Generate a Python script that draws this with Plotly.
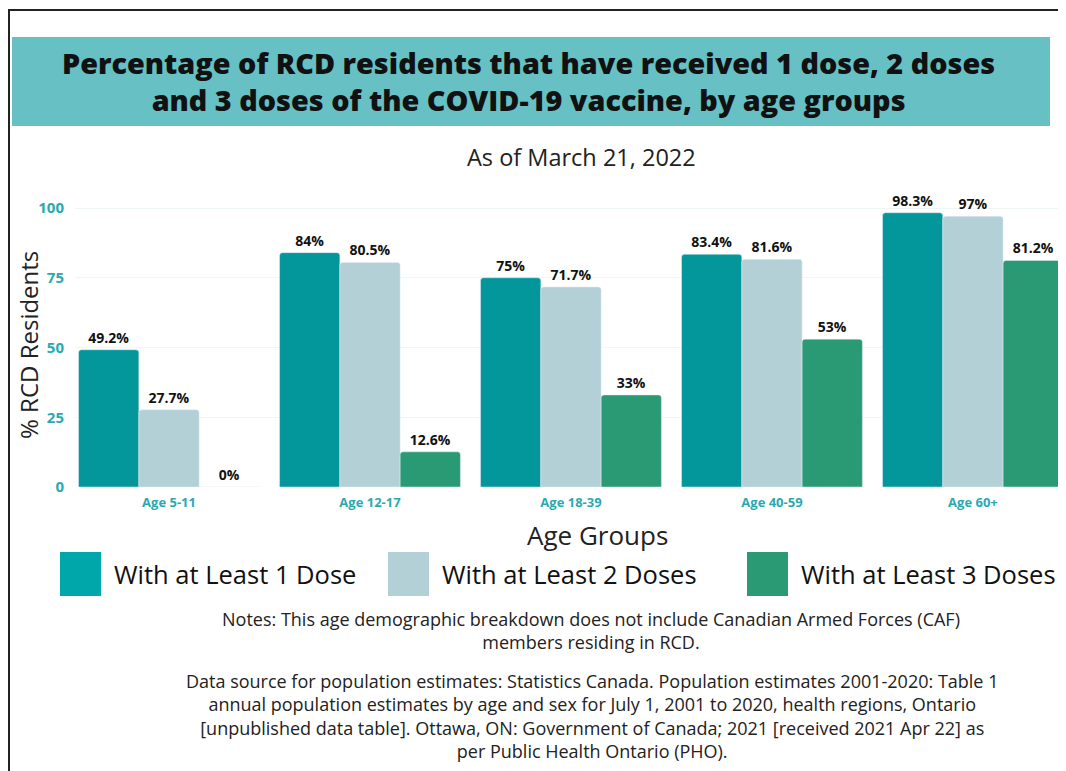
import plotly.graph_objects as go

# data
age_groups = ['Age 5-11', 'Age 12-17', 'Age 18-39', 'Age 40-59', 'Age 60+']
dose1 = [49.2, 84, 75, 83.4, 98.3]
dose2 = [27.7, 80.5, 71.7, 81.6, 97]
dose3 = [0, 12.6, 33, 53, 81.2]
series_names = ['With at Least 1 Dose', 'With at Least 2 Doses', 'With at Least 3 Doses']
y_ticks = [0, 25, 50, 75, 100]

title_lines = ['Percentage of RCD residents that have received 1 dose, 2 doses',
               'and 3 doses of the COVID-19 vaccine, by age groups']
note_lines = ['Notes: This age demographic breakdown does not include Canadian Armed Forces (CAF)',
              'members residing in RCD.']
source_lines = ['Data source for population estimates: Statistics Canada. Population estimates 2001-2020: Table 1',
                'annual population estimates by age and sex for July 1, 2001 to 2020, health regions, Ontario',
                '[unpublished data table]. Ottawa, ON: Government of Canada; 2021 [received 2021 Apr 22] as',
                'per Public Health Ontario (PHO).']

colors = ['#03979B', '#B3D0D6', '#2A9A74']
legend_colors = ['#00A7AA', '#B3D0D6', '#2A9A74']
teal_txt = '#2AAAB0'
FONT = 'Open Sans'

# page has an 8px body margin, so figure coords = page coords - 8
OFF = 8
W, H = 1058, 763
L, R, T, B = 67, 2, 192, 284
pw, ph = W - L - R, H - T - B

def px(x):
    # page pixel x -> paper
    return (x - OFF - L) / pw

def py(y):
    # page pixel y -> paper
    return (H - B - (y - OFF)) / ph

fig = go.Figure()
for name, vals, col in zip(series_names, [dose1, dose2, dose3], colors):
    fig.add_trace(go.Bar(
        x=age_groups, y=vals, name=name, marker_color=col,
        marker_cornerradius=3,
        texttemplate='%{y}%', textposition='outside',
        textfont=dict(family=FONT, size=14, color='#111111', weight='bold'),
        cliponaxis=False, showlegend=False,
    ))

fig.update_layout(
    width=W, height=H,
    margin=dict(l=L, r=R, t=T, b=B),
    paper_bgcolor='white', plot_bgcolor='white',
    barmode='group', bargap=0.1, bargroupgap=0,
    font=dict(family=FONT, color='#222222'),
    xaxis=dict(range=[-0.4677, 4.453], showline=False, ticks='', ticklabelstandoff=6,
               tickfont=dict(family=FONT, size=13, color=teal_txt, weight='bold')),
    yaxis=dict(range=[0, 100 * ph / 279], tickvals=y_ticks, showline=False,
               gridcolor='#EEF6F6', zeroline=False, ticklabelstandoff=10,
               tickfont=dict(family=FONT, size=15, color=teal_txt, weight='bold')),
)

# outer frame
fig.add_shape(type='rect', xref='paper', yref='paper', x0=px(9), x1=px(1080), y0=py(790), y1=py(10),
              line=dict(color='#222222', width=2), fillcolor='rgba(0,0,0,0)', layer='below')
# title banner
fig.add_shape(type='rect', xref='paper', yref='paper', x0=px(12), x1=px(1050), y0=py(126), y1=py(37),
              line=dict(width=0), fillcolor='#66C0C4', layer='below')

def text_at(txt, x, y, size, color='#222222', weight='normal', angle=0, anchor='center'):
    fig.add_annotation(text=txt, x=px(x), y=py(y), xref='paper', yref='paper',
                       showarrow=False, xanchor=anchor, yanchor='middle', textangle=angle,
                       font=dict(family=FONT, size=size, color=color, weight=weight))

text_at('<br>'.join(title_lines), 528, 81, 28.8, '#111111', 800)
text_at('As of March 21, 2022', 581, 157, 23.5)
text_at('Age Groups', 597, 535, 26)
text_at('% RCD Residents', 28, 345, 24, angle=-90)
text_at('<br>'.join(note_lines), 591, 630, 18)
text_at('<br>'.join(source_lines), 592, 716, 18)

# legend drawn as big swatches
leg_x = [60, 388, 747]
for xs, name, col in zip(leg_x, series_names, legend_colors):
    fig.add_shape(type='rect', xref='paper', yref='paper', x0=px(xs), x1=px(xs + 41),
                  y0=py(596), y1=py(552), line=dict(width=0), fillcolor=col)
    text_at(name, xs + 52, 574, 25.5, '#111111', anchor='left')

fig.write_html("out.html")
